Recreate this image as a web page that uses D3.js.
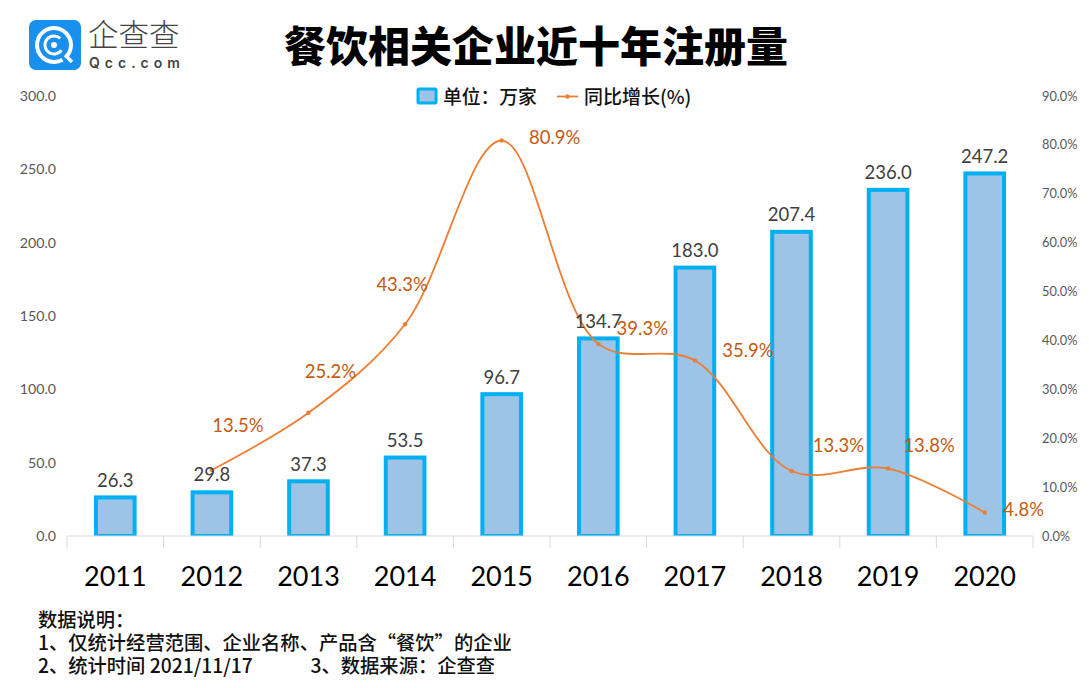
<!DOCTYPE html>
<html>
<head>
<meta charset="utf-8">
<script src="https://cdn.jsdelivr.net/npm/d3@7"></script>
<style>
body { margin: 0; background: #fff; }
svg { display: block; }
.cjk { font-family: "Noto Sans CJK SC", sans-serif; }
.num { font-family: Lato, "Noto Sans", sans-serif; }
</style>
</head>
<body>
<div id="vis"></div>
<script>
const FRAME_WIDTH = 1089;
const FRAME_HEIGHT = 688;
const MARGINS = { left: 67, right: 56, top: 96, bottom: 152 };

const years = ["2011", "2012", "2013", "2014", "2015", "2016", "2017", "2018", "2019", "2020"];
const counts = [26.3, 29.8, 37.3, 53.5, 96.7, 134.7, 183.0, 207.4, 236.0, 247.2];
const growthYears = ["2012", "2013", "2014", "2015", "2016", "2017", "2018", "2019", "2020"];
const growth = [13.5, 25.2, 43.3, 80.9, 39.3, 35.9, 13.3, 13.8, 4.8];
const leftTicks = [0, 50, 100, 150, 200, 250, 300];
const rightTicks = [0, 10, 20, 30, 40, 50, 60, 70, 80, 90];
// hand placed label nudges, same as in the original
const growthLabelNudge = [[26, -44], [22, -41], [-3, -39], [53, -2], [44, -15], [53, -9], [47, -25], [41, -23], [39, -3]];
const countLabelNudge = [0, -1, 0, 0, 0, 0, 0, 0, 0, 0];
const notes = ["数据说明：", "1、仅统计经营范围、企业名称、产品含“餐饮”的企业", "2、统计时间 2021/11/17　　　3、数据来源：企查查"];

const VIS_WIDTH = FRAME_WIDTH - MARGINS.left - MARGINS.right;
const VIS_HEIGHT = FRAME_HEIGHT - MARGINS.top - MARGINS.bottom;
const BASE_Y = MARGINS.top + VIS_HEIGHT;

const svg = d3.select("#vis").append("svg")
    .attr("width", FRAME_WIDTH)
    .attr("height", FRAME_HEIGHT);

const X_SCALE = d3.scaleBand()
    .domain(years)
    .range([MARGINS.left, MARGINS.left + VIS_WIDTH])
    .paddingInner(0.6)
    .paddingOuter(0.3);

const Y_LEFT = d3.scaleLinear().domain([0, 300]).range([BASE_Y, MARGINS.top]);
const Y_RIGHT = d3.scaleLinear().domain([0, 90]).range([BASE_Y, MARGINS.top]);
const centre = (y) => X_SCALE(y) + X_SCALE.bandwidth() / 2;

// left axis
const leftAxis = svg.append("g")
    .attr("transform", "translate(" + (MARGINS.left - 4) + ",0)")
    .call(d3.axisLeft(Y_LEFT).tickValues(leftTicks).tickSize(0).tickPadding(7).tickFormat(d3.format(".1f")));
leftAxis.select(".domain").remove();
leftAxis.selectAll("text").attr("class", "num").attr("font-size", 14.2).attr("fill", "#595959");

// right axis
const rightAxis = svg.append("g")
    .attr("transform", "translate(" + (MARGINS.left + VIS_WIDTH) + ",0)")
    .call(d3.axisRight(Y_RIGHT).tickValues(rightTicks).tickSize(0).tickPadding(9).tickFormat((d) => d.toFixed(1) + "%"));
rightAxis.select(".domain").remove();
rightAxis.selectAll("text").attr("class", "num").attr("font-size", 12.8).attr("fill", "#595959");

// bars, cut off at the baseline
svg.append("clipPath")
    .attr("id", "plot-clip")
    .append("rect")
    .attr("x", 0).attr("y", 0)
    .attr("width", FRAME_WIDTH).attr("height", BASE_Y);

svg.append("g")
    .attr("clip-path", "url(#plot-clip)")
    .selectAll(".bar")
    .data(counts)
    .enter()
    .append("rect")
    .attr("class", "bar")
    .attr("x", (d, i) => X_SCALE(years[i]))
    .attr("y", (d) => Y_LEFT(d))
    .attr("width", X_SCALE.bandwidth())
    .attr("height", (d) => BASE_Y - Y_LEFT(d))
    .attr("fill", "#9DC3E6")
    .attr("stroke", "#00B0F0")
    .attr("stroke-width", 4);

// x axis baseline and the ticks between categories
const step = X_SCALE.step();
svg.append("line")
    .attr("x1", MARGINS.left).attr("x2", MARGINS.left + VIS_WIDTH)
    .attr("y1", BASE_Y).attr("y2", BASE_Y)
    .attr("stroke", "#d9d9d9").attr("stroke-width", 1);
svg.selectAll(".xtick")
    .data(d3.range(years.length + 1))
    .enter()
    .append("line")
    .attr("class", "xtick")
    .attr("x1", (d) => MARGINS.left + d * step).attr("x2", (d) => MARGINS.left + d * step)
    .attr("y1", BASE_Y).attr("y2", BASE_Y + 12)
    .attr("stroke", "#d9d9d9");

svg.selectAll(".xlabel")
    .data(years)
    .enter()
    .append("text")
    .attr("class", "xlabel num")
    .attr("x", (d) => centre(d))
    .attr("y", BASE_Y + 50)
    .attr("text-anchor", "middle")
    .attr("font-size", 27)
    .attr("fill", "#000")
    .text((d) => d);

// growth line
const line = d3.line()
    .x((d, i) => centre(growthYears[i]))
    .y((d) => Y_RIGHT(d))
    .curve(d3.curveCatmullRom.alpha(0.5));

svg.append("path")
    .datum(growth)
    .attr("d", line)
    .attr("fill", "none")
    .attr("stroke", "#ED7D31")
    .attr("stroke-width", 1.8);

svg.selectAll(".point")
    .data(growth)
    .enter()
    .append("circle")
    .attr("class", "point")
    .attr("cx", (d, i) => centre(growthYears[i]))
    .attr("cy", (d) => Y_RIGHT(d))
    .attr("r", 2.2)
    .attr("fill", "#ED7D31");

// value labels
svg.selectAll(".count-label")
    .data(counts)
    .enter()
    .append("text")
    .attr("class", "count-label num")
    .attr("x", (d, i) => centre(years[i]))
    .attr("y", (d, i) => Y_LEFT(d) - 10.5 + countLabelNudge[i])
    .attr("text-anchor", "middle")
    .attr("font-size", 18.5)
    .attr("fill", "#404040")
    .text((d) => d.toFixed(1));

svg.selectAll(".growth-label")
    .data(growth)
    .enter()
    .append("text")
    .attr("class", "growth-label num")
    .attr("x", (d, i) => centre(growthYears[i]) + growthLabelNudge[i][0])
    .attr("y", (d, i) => Y_RIGHT(d) + growthLabelNudge[i][1] + 6)
    .attr("text-anchor", "middle")
    .attr("font-size", 18.5)
    .attr("fill", "#C55A11")
    .text((d) => d.toFixed(1) + "%");

// title
svg.append("text")
    .attr("class", "cjk")
    .attr("x", 536).attr("y", 62)
    .attr("text-anchor", "middle")
    .attr("font-size", 42)
    .attr("font-weight", 900)
    .attr("fill", "#000")
    .text("餐饮相关企业近十年注册量");

// legend
svg.append("rect")
    .attr("x", 418).attr("y", 89).attr("width", 18).attr("height", 14).attr("rx", 1)
    .attr("fill", "#9DC3E6").attr("stroke", "#00B0F0").attr("stroke-width", 3);
svg.append("text")
    .attr("class", "cjk").attr("x", 443).attr("y", 103.5)
    .attr("font-size", 18.8).attr("font-weight", 500).attr("fill", "#111")
    .text("单位：万家");
svg.append("line")
    .attr("x1", 557).attr("x2", 578).attr("y1", 96.5).attr("y2", 96.5)
    .attr("stroke", "#ED7D31").attr("stroke-width", 1.8);
svg.append("circle")
    .attr("cx", 567.5).attr("cy", 96.5).attr("r", 2.2).attr("fill", "#ED7D31");
svg.append("text")
    .attr("class", "cjk").attr("x", 584).attr("y", 103.5)
    .attr("font-size", 19).attr("font-weight", 500).attr("fill", "#111")
    .text("同比增长(%)");

// notes
svg.selectAll(".note")
    .data(notes)
    .enter()
    .append("text")
    .attr("class", "note cjk")
    .attr("x", 38)
    .attr("y", (d, i) => 627 + i * 23)
    .attr("font-size", 19.3)
    .attr("font-weight", 500)
    .attr("fill", "#111")
    .text((d) => d);

// logo
const logo = svg.append("g");
logo.append("rect")
    .attr("x", 29).attr("y", 20).attr("width", 52).attr("height", 50).attr("rx", 7)
    .attr("fill", "#1890F0");
const arc = d3.arc();
logo.append("path")
    .attr("d", arc({ innerRadius: 15, outerRadius: 19, startAngle: 0, endAngle: Math.PI * 1.9 }))
    .attr("transform", "translate(54,45) rotate(150)")
    .attr("fill", "#fff");
logo.append("path")
    .attr("d", arc({ innerRadius: 7.5, outerRadius: 10.5, startAngle: 0, endAngle: Math.PI * 1.55 }))
    .attr("transform", "translate(54,45) rotate(125)")
    .attr("fill", "#fff");
logo.append("circle").attr("cx", 54).attr("cy", 45).attr("r", 3).attr("fill", "#fff");
logo.append("line")
    .attr("x1", 65).attr("y1", 55).attr("x2", 72).attr("y2", 62)
    .attr("stroke", "#fff").attr("stroke-width", 3.5);
logo.append("text")
    .attr("class", "cjk").attr("x", 88).attr("y", 45.5)
    .attr("font-size", 30.5).attr("font-weight", 300).attr("fill", "#444")
    .text("企查查");
logo.append("text")
    .attr("x", 89).attr("y", 68)
    .attr("font-family", "Inter, sans-serif")
    .attr("font-size", 14).attr("font-weight", 600).attr("letter-spacing", 5).attr("fill", "#444")
    .text("Qcc.com");
</script>
</body>
</html>
